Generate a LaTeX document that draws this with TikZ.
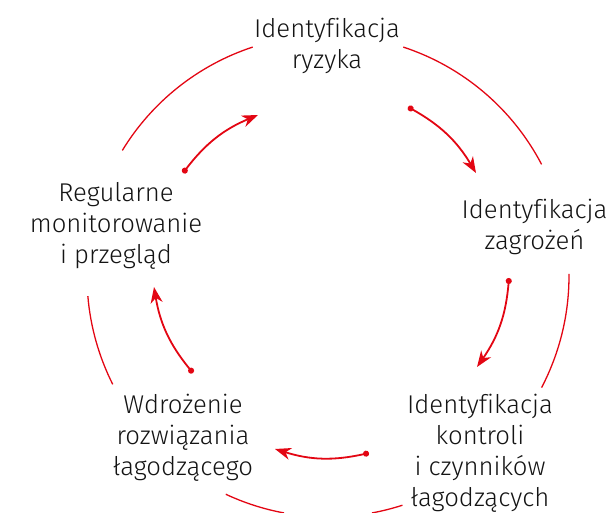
\documentclass[tikz,border=0pt]{standalone}
\usepackage{fontspec}
\setmainfont{Fira Sans}[UprightFont=* Light, Ligatures=CommonOff]
\usetikzlibrary{arrows.meta}

\definecolor{riskred}{HTML}{E30613}
\definecolor{labelgray}{HTML}{141414}

\tikzset{
    label/.style={align=center, anchor=north, inner sep=0pt, text=labelgray,
        font=\fontsize{25.7}{31}\selectfont},
    ring/.style={riskred, line width=1.3pt},
    flow/.style={riskred, line width=1.8pt,
        {Circle[length=6pt]}-{Stealth[length=16pt, width=12pt, inset=5pt]}}
}

\begin{document}
\begin{tikzpicture}[x=1pt, y=1pt]
    \useasboundingbox (0,0) rectangle (611,512);
    \coordinate (O) at (328,236);

    % Labels
    \node[label] (risk) at (327,494.5) {Identyfikacja\\ryzyka};
    \node[label] (hazards) at (534.5,313.5) {Identyfikacja\\zagrożeń};
    \node[label] (controls) at (480,118.5) {Identyfikacja\\kontroli\\i czynników\\łagodzących};
    \node[label] (implement) at (183,118.5) {Wdrożenie\\rozwiązania\\łagodzącego};
    \node[label] (monitor) at (116,329.5) {Regularne\\monitorowanie\\i przegląd};

    % Outer ring
    \draw[ring] (O) ++(108.2:241) arc[start angle=108.2, end angle=148.6, radius=241];
    \draw[ring] (O) ++(27.6:241) arc[start angle=27.6, end angle=71.8, radius=241];
    \draw[ring] (O) ++(-27.6:241) arc[start angle=-27.6, end angle=0.5, radius=241];
    \draw[ring] (O) ++(184.8:241) arc[start angle=184.8, end angle=206.7, radius=241];
    \draw[ring] (O) ++(244.9:241) arc[start angle=244.9, end angle=259.5, radius=241];
    \draw[ring] (O) ++(280.5:241) arc[start angle=280.5, end angle=288, radius=241];

    % Inner arrows
    \coordinate (riskout) at (408,405);
    \coordinate (hazardsin) at (476,339);
    \coordinate (hazardsout) at (509,234);
    \coordinate (controlsin) at (477,145);
    \coordinate (controlsout) at (369,59);
    \coordinate (implementin) at (275,63);
    \coordinate (implementout) at (193,139);
    \coordinate (monitorin) at (154,225);
    \coordinate (monitorout) at (183,339);
    \coordinate (riskin) at (258,397);

    \draw[flow] (riskout) to[bend left=15] (hazardsin);
    \draw[flow] (hazardsout) to[bend left=15] (controlsin);
    \draw[flow] (controlsout) to[bend left=15] (implementin);
    \draw[flow] (implementout) to[bend left=15] (monitorin);
    \draw[flow] (monitorout) to[bend left=15] (riskin);
\end{tikzpicture}
\end{document}
